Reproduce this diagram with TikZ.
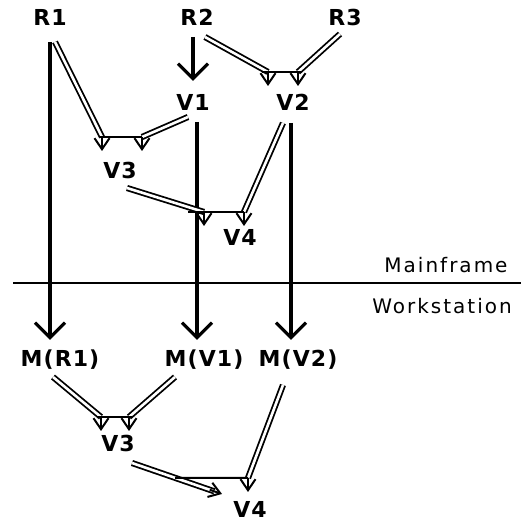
\documentclass[tikz,border=0pt]{standalone}
\usepackage{fontspec}
\usepackage{tikz}
\usetikzlibrary{arrows.meta,calc}
\newfontfamily\lblfont[LetterSpace=5]{DejaVu Sans}
\newfontfamily\sidefont[LetterSpace=10]{DejaVu Sans}

\begin{document}
\begin{tikzpicture}[
  x=1pt,y=-1pt,
  viewnode/.style={font=\lblfont\fontsize{22}{24}\selectfont\bfseries,inner sep=0pt},
  sidelabel/.style={font=\sidefont\fontsize{20}{22}\selectfont,inner sep=0pt},
  copyarr/.style={-{Straight Barb[length=15pt,width=30pt]},line width=3.2pt},
  derive/.style={double,line width=1.8pt,double distance=2.6pt},
  headarr/.style={-{Straight Barb[length=11pt,width=15pt]},line width=2pt},
  joinbar/.style={line width=2pt},
  divider/.style={line width=2.2pt},
]
\useasboundingbox (0,0) rectangle (531,526);

% Mainframe side (top)
\node[viewnode] (r1) at (50,17)   {R1};
\node[viewnode] (r2) at (197,17)  {R2};
\node[viewnode] (r3) at (345,17)  {R3};
\node[viewnode] (v1) at (193,102) {V1};
\node[viewnode] (v2) at (293,102) {V2};
\node[viewnode] (v3) at (120,170) {V3};
\node[viewnode] (v4) at (240,237) {V4};

% Workstation side (bottom)
\node[viewnode] (mr1) at (60,360)  {M(R1)};
\node[viewnode] (mv1) at (204,360) {M(V1)};
\node[viewnode] (mv2) at (298,360) {M(V2)};
\node[viewnode] (w3)  at (118,443) {V3};
\node[viewnode] (w4)  at (250,509) {V4};

% Divider and side labels
\draw[divider] (13,283) -- (521,283);
\node[sidelabel] (mainf) at (446,265) {Mainframe};
\node[sidelabel] (works) at (442,306) {Workstation};

% Join points on the bars
\coordinate (j3a) at (102,137); \coordinate (j3b) at (142,137);
\coordinate (j2a) at (268,72);  \coordinate (j2b) at (298,72);
\coordinate (j4a) at (204,212); \coordinate (j4b) at (244,212);
\coordinate (k3a) at (101,417); \coordinate (k3b) at (129,417);
\coordinate (k4a) at (222,494); \coordinate (k4b) at (248,478);
\coordinate (s34) at ($(w3)+(14,20)$);

% Copies down to the workstation
\draw[copyarr] ($(r1)+(0,25)$) -- ($(mr1)+(-10,-20)$);
\draw[copyarr] ($(r2)+(-4,20)$) -- ($(v1)+(0,-21)$);
\draw[copyarr] ($(v1)+(4,20)$) -- ($(mv1)+(-7,-20)$);
\draw[copyarr] ($(v2)+(-2,21)$) -- ($(mv2)+(-7,-20)$);

% Derivations
\draw[derive] ($(r1)+(5,25)$) -- (j3a);
\draw[derive] ($(v1)+(-5,15)$) -- (j3b);
\draw[derive] ($(r2)+(8,20)$) -- (j2a);
\draw[derive] ($(r3)+(-5,17)$) -- (j2b);
\draw[derive] ($(v3)+(7,18)$) -- (j4a);
\draw[derive] ($(v2)+(-10,21)$) -- (j4b);
\draw[derive] ($(mr1)+(-7,17)$) -- (k3a);
\draw[derive] ($(mv1)+(-29,17)$) -- (k3b);
\draw[derive] (s34) -- ($(k4a)!8pt!(s34)$);
\draw[derive] ($(mv2)+(-15,25)$) -- (k4b);

% Join bars and arrow heads
\draw[joinbar] ($(j3a)+(-3,0)$) -- (j3b);
\draw[joinbar] ($(j2a)+(-6,0)$) -- ($(j2b)+(4,0)$);
\draw[joinbar] ($(j4a)+(-16,0)$) -- (j4b);
\draw[joinbar] ($(k3a)+(-4,0)$) -- ($(k3b)+(3,0)$);
\draw[joinbar] ($(s34)!0.48!(k4a)$) -- (k4b);
\foreach \j in {j3a,j3b,j2a,j2b,j4a,j4b,k3a,k3b,k4b}
  \draw[headarr] (\j) -- ++(0,14);
\draw[headarr] ($(k4a)!13pt!(s34)$) -- (k4a);
\end{tikzpicture}
\end{document}
